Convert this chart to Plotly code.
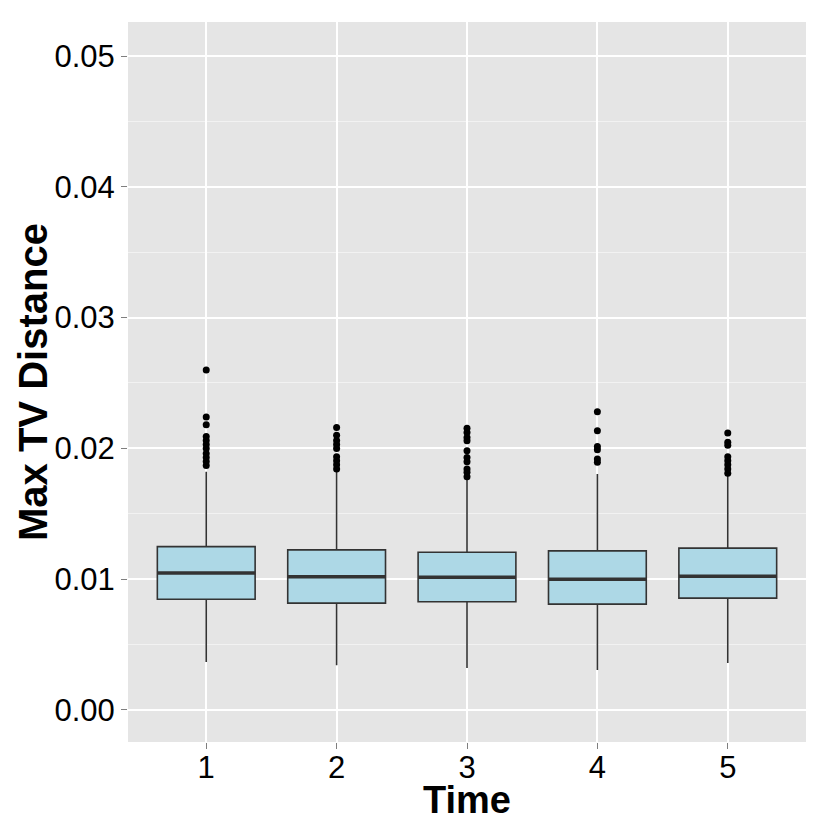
import plotly.graph_objects as go

times = [1, 2, 3, 4, 5]
tick_labels = ["1", "2", "3", "4", "5"]
q1 = [0.00847, 0.00817, 0.00827, 0.00809, 0.00855]
median = [0.01048, 0.01018, 0.01015, 0.01000, 0.01023]
q3 = [0.01249, 0.01224, 0.01206, 0.01216, 0.01237]
lower_whisker = [0.00366, 0.00341, 0.00321, 0.00306, 0.00359]
upper_whisker = [0.01822, 0.01824, 0.01758, 0.01804, 0.01799]
outliers = {
    1: [0.0260, 0.0224, 0.0218, 0.0209, 0.0206, 0.0203, 0.0200, 0.0196, 0.0193, 0.0190, 0.0187],
    2: [0.0216, 0.0210, 0.0206, 0.0203, 0.0200, 0.01936, 0.01906, 0.01875, 0.01842],
    3: [0.02153, 0.02122, 0.02084, 0.02059, 0.01982, 0.01931, 0.01898, 0.01842, 0.01817, 0.01784],
    4: [0.0228, 0.02135, 0.02015, 0.0199, 0.01919, 0.01893],
    5: [0.02117, 0.02046, 0.02023, 0.01936, 0.01906, 0.01875, 0.01842, 0.01809],
}
y_ticks = [0.00, 0.01, 0.02, 0.03, 0.04, 0.05]
box_width = 0.75

fig = go.Figure()
fig.add_trace(go.Box(
    x=times, q1=q1, median=median, q3=q3,
    lowerfence=lower_whisker, upperfence=upper_whisker,
    width=box_width, whiskerwidth=0, fillcolor="#ADD8E6",
    line=dict(color="#333333", width=1.6),
    boxpoints=False, showlegend=False, hoverinfo="skip",
))

# thicker median lines (ggplot style)
mx, my = [], []
for t, m in zip(times, median):
    mx += [t - box_width / 2, t + box_width / 2, None]
    my += [m, m, None]
fig.add_trace(go.Scatter(x=mx, y=my, mode="lines",
                         line=dict(color="#333333", width=3.5),
                         showlegend=False, hoverinfo="skip"))

ox, oy = [], []
for t in times:
    ox += [t] * len(outliers[t])
    oy += outliers[t]
fig.add_trace(go.Scatter(x=ox, y=oy, mode="markers",
                         marker=dict(color="black", size=7),
                         showlegend=False, hoverinfo="skip"))

font_family = "Liberation Sans, Arial, Helvetica, sans-serif"
fig.update_layout(
    width=830, height=830,
    margin=dict(l=120, r=32, t=14, b=96, autoexpand=False),
    paper_bgcolor="white", plot_bgcolor="#E5E5E5",
    font=dict(family=font_family, color="black"),
    xaxis=dict(
        range=[0.4, 5.6], tickmode="array", tickvals=times, ticktext=tick_labels,
        showgrid=True, gridcolor="white", gridwidth=1.6, zeroline=False,
        ticks="outside", ticklen=6, tickcolor="#7F7F7F", tickwidth=1.2,
        tickfont=dict(size=31, color="black"), automargin=False,
        ticklabelstandoff=-8,
        showline=False,
    ),
    yaxis=dict(
        range=[-0.00245, 0.0526], tickmode="array", tickvals=y_ticks,
        ticktext=["%.2f" % v for v in y_ticks],
        showgrid=True, gridcolor="white", gridwidth=1.6, zeroline=False,
        ticks="outside", ticklen=6, tickcolor="#7F7F7F", tickwidth=1.2,
        tickfont=dict(size=31, color="black"), automargin=False,
        minor=dict(dtick=0.005, tick0=0, showgrid=True, gridcolor="#F2F2F2", gridwidth=0.8, ticks=""),
        showline=False,
    ),
    annotations=[
        dict(text="<b>Time</b>", xref="paper", yref="paper", x=0.5, y=-0.0800,
             xanchor="center", yanchor="middle", showarrow=False,
             font=dict(size=38, color="black")),
        dict(text="<b>Max TV Distance</b>", xref="paper", yref="paper", x=-0.1401, y=0.5,
             xanchor="center", yanchor="middle", textangle=-90, showarrow=False,
             font=dict(size=40, color="black")),
    ],
)

fig.write_html("out.html")
